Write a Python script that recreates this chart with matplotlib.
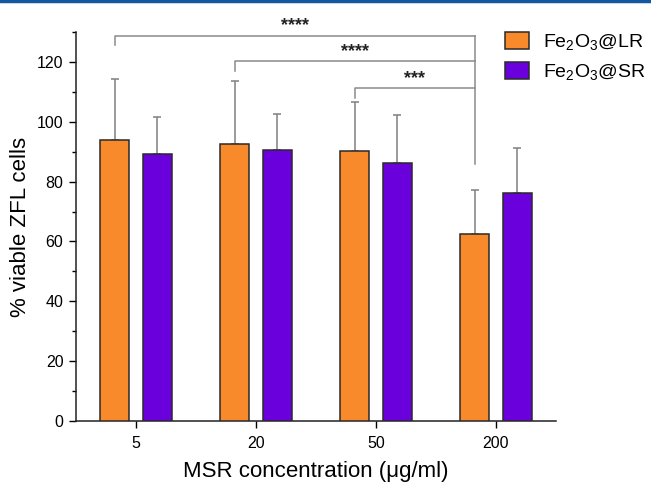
import matplotlib
matplotlib.use("Agg")
import matplotlib.pyplot as plt
import numpy as np
from matplotlib.lines import Line2D
from matplotlib.ticker import MultipleLocator

plt.rcParams['font.family'] = ['Liberation Sans', 'DejaVu Sans']
plt.rcParams['mathtext.default'] = 'regular'

categories = ["5", "20", "50", "200"]
lr_values = [93.8, 92.5, 90.2, 62.5]
lr_err = [20.4, 21.0, 16.5, 14.7]
sr_values = [89.2, 90.5, 86.2, 76.1]
sr_err = [12.3, 12.0, 16.2, 15.3]
series_names = ["Fe$_2$O$_3$@LR", "Fe$_2$O$_3$@SR"]
# significance brackets: (left group index, label)
sig_groups = [0, 1, 2]
sig_labels = ["****", "****", "***"]
sig_levels = [128.8, 120.2, 111.3]

c_orange = '#F98A2B'
c_purple = '#6A00DC'

fig = plt.figure(figsize=(6.51, 4.83), dpi=100)
ax = fig.add_axes([0.1167, 0.1284, 0.854 - 0.1167, 0.9337 - 0.1284])

x = np.arange(len(categories))
w = 0.245
off = 0.178
ax.bar(x - off, lr_values, w, color=c_orange, edgecolor='#2a2a2a', linewidth=1.1, label=series_names[0], zorder=3)
ax.bar(x + off, sr_values, w, color=c_purple, edgecolor='#2a2a2a', linewidth=1.1, label=series_names[1], zorder=3)
ax.errorbar(x - off, lr_values, yerr=[np.zeros(4), lr_err], fmt='none', ecolor='#808080',
            elinewidth=1.1, capsize=2.6, capthick=1.1, zorder=2)
ax.errorbar(x + off, sr_values, yerr=[np.zeros(4), sr_err], fmt='none', ecolor='#808080',
            elinewidth=1.1, capsize=2.6, capthick=1.1, zorder=2)

# brackets
right_x = x[3] - off
bc = '#8a8a8a'
for g, lab, lev in zip(sig_groups, sig_labels, sig_levels):
    lx = x[g] - off
    ax.plot([lx, lx, right_x], [lev - 3.3, lev, lev], color=bc, lw=1.1, clip_on=False, zorder=4)
    ax.text((lx + right_x) / 2, lev + 3.2, lab, ha='center', va='center', fontsize=13,
            fontweight='bold', color='#222222', clip_on=False)
ax.plot([right_x, right_x], [sig_levels[0], 86.0], color=bc, lw=1.1, clip_on=False, zorder=4)

ax.set_xlim(-0.5, 3.5)
ax.set_ylim(0, 130)
ax.set_xticks(x)
ax.set_xticklabels(categories, fontsize=11.5)
ax.yaxis.set_major_locator(MultipleLocator(20))
ax.yaxis.set_minor_locator(MultipleLocator(10))
ax.tick_params(axis='y', which='major', labelsize=11.5, length=5, width=1, direction='out', pad=4)
ax.tick_params(axis='y', which='minor', length=3, width=1, direction='out')
ax.tick_params(axis='x', which='major', length=5, width=1, direction='out', pad=6)
for s in ['top', 'right']:
    ax.spines[s].set_visible(False)
for s in ['left', 'bottom']:
    ax.spines[s].set_linewidth(1.1)
    ax.spines[s].set_color('#222222')

ax.set_ylabel("% viable ZFL cells", fontsize=16, labelpad=4)
ax.set_xlabel("MSR concentration (\u03bcg/ml)", fontsize=16, labelpad=7)

fig.legend(loc='upper left', bbox_to_anchor=(0.776, 0.934), bbox_transform=fig.transFigure,
           frameon=False, fontsize=14, handlelength=1.2, handleheight=1.0,
           handletextpad=0.75, labelspacing=0.5, borderpad=0, borderaxespad=0)

fig.add_artist(Line2D([0, 1], [0.998, 0.998], transform=fig.transFigure, color='#1257A0', lw=2.5))

fig.savefig("out.png", dpi=100)
